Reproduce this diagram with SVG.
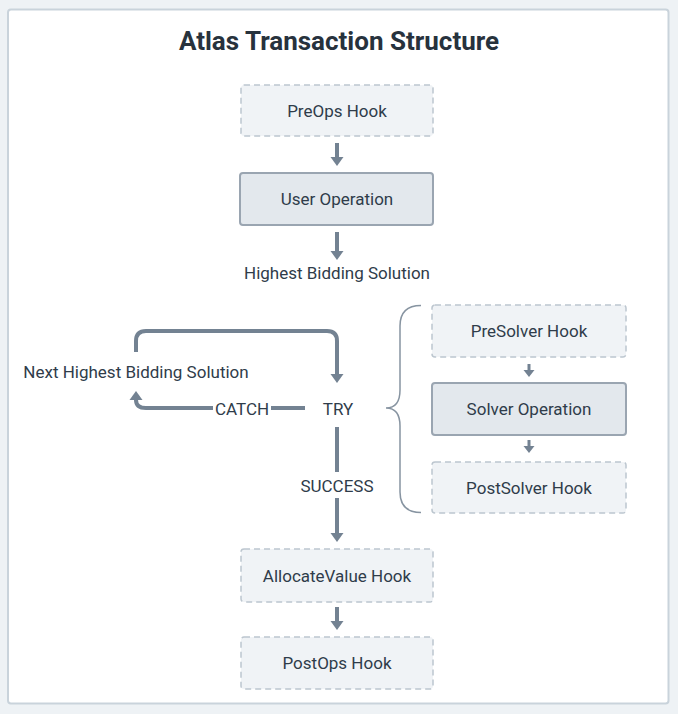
<svg xmlns="http://www.w3.org/2000/svg" width="678" height="714" viewBox="0 0 678 714">
<style>
text{font-family:"Roboto","Liberation Sans",sans-serif;fill:#2f3c4a;text-anchor:middle;dominant-baseline:central;font-size:17px}
.title{font-size:26px;font-weight:bold;fill:#27323d}
.hook{fill:#f0f3f6;stroke:#bcc6cf;stroke-width:1.5;stroke-dasharray:6 4}
.op{fill:#e3e8ed;stroke:#9aa5b1;stroke-width:2}
.c{fill:none;stroke:#738292;stroke-width:4}
.cs{fill:none;stroke:#738292;stroke-width:3}
.brace{fill:none;stroke:#8794a1;stroke-width:1.5}
</style>
<defs>
<marker id="ah" markerUnits="userSpaceOnUse" markerWidth="14" markerHeight="14" viewBox="0 -7 10 14" refX="0" refY="0" orient="auto">
<path d="M0,-6.5 L9,0 L0,6.5 z" fill="#738292"/>
</marker>
<marker id="ahs" markerUnits="userSpaceOnUse" markerWidth="12" markerHeight="12" viewBox="0 -6 8 12" refX="0" refY="0" orient="auto">
<path d="M0,-5.5 L7,0 L0,5.5 z" fill="#738292"/>
</marker>
</defs>
<rect x="0" y="0" width="678" height="714" fill="#eef2f5"/>
<rect x="8" y="9.5" width="660.5" height="694" rx="3" fill="#ffffff" stroke="#c9d3db" stroke-width="2"/>
<text class="title" x="339" y="41">Atlas Transaction Structure</text>

<g id="connectors">
<line class="c" x1="337" y1="143" x2="337" y2="157" marker-end="url(#ah)"/>
<line class="c" x1="337" y1="232" x2="337" y2="251" marker-end="url(#ah)"/>
<path class="c" d="M136,352 V341 Q136,331 146,331 H327 Q337,331 337,341 V374" marker-end="url(#ah)"/>
<line class="c" x1="305" y1="408" x2="271" y2="408"/>
<path class="c" d="M213,408 H146 Q136,408 136,400" marker-end="url(#ah)"/>
<line class="c" x1="337" y1="427" x2="337" y2="472"/>
<line class="c" x1="337" y1="498" x2="337" y2="533" marker-end="url(#ah)"/>
<line class="c" x1="337" y1="607" x2="337" y2="621" marker-end="url(#ah)"/>
<line class="cs" x1="529" y1="364" x2="529" y2="370" marker-end="url(#ahs)"/>
<line class="cs" x1="529" y1="440" x2="529" y2="446" marker-end="url(#ahs)"/>
<path class="brace" d="M421,305.5 Q400,305.5 400,326 V390 Q400,408 386,408 Q400,408 400,426 V492 Q400,512.5 421,512.5"/>
<text x="242" y="409">CATCH</text>
<text x="337" y="486">SUCCESS</text>
<text x="337" y="273">Highest Bidding Solution</text>
<text x="136" y="372">Next Highest Bidding Solution</text>
<text x="338" y="409">TRY</text>
</g>

<g id="preops"><rect class="hook" x="241" y="85" width="192" height="51" rx="3"/><text x="337" y="111">PreOps Hook</text></g>
<g id="userop"><rect class="op" x="240" y="173" width="193" height="52" rx="3"/><text x="337" y="199">User Operation</text></g>
<g id="presolver"><rect class="hook" x="432" y="305" width="194" height="52" rx="3"/><text x="529" y="331">PreSolver Hook</text></g>
<g id="solverop"><rect class="op" x="432" y="383" width="194" height="52" rx="3"/><text x="529" y="409">Solver Operation</text></g>
<g id="postsolver"><rect class="hook" x="432" y="462" width="194" height="51" rx="3"/><text x="529" y="488">PostSolver Hook</text></g>
<g id="allocate"><rect class="hook" x="241" y="549" width="192" height="53" rx="3"/><text x="337" y="576">AllocateValue Hook</text></g>
<g id="postops"><rect class="hook" x="241" y="637" width="192" height="52" rx="3"/><text x="337" y="663">PostOps Hook</text></g>
</svg>
